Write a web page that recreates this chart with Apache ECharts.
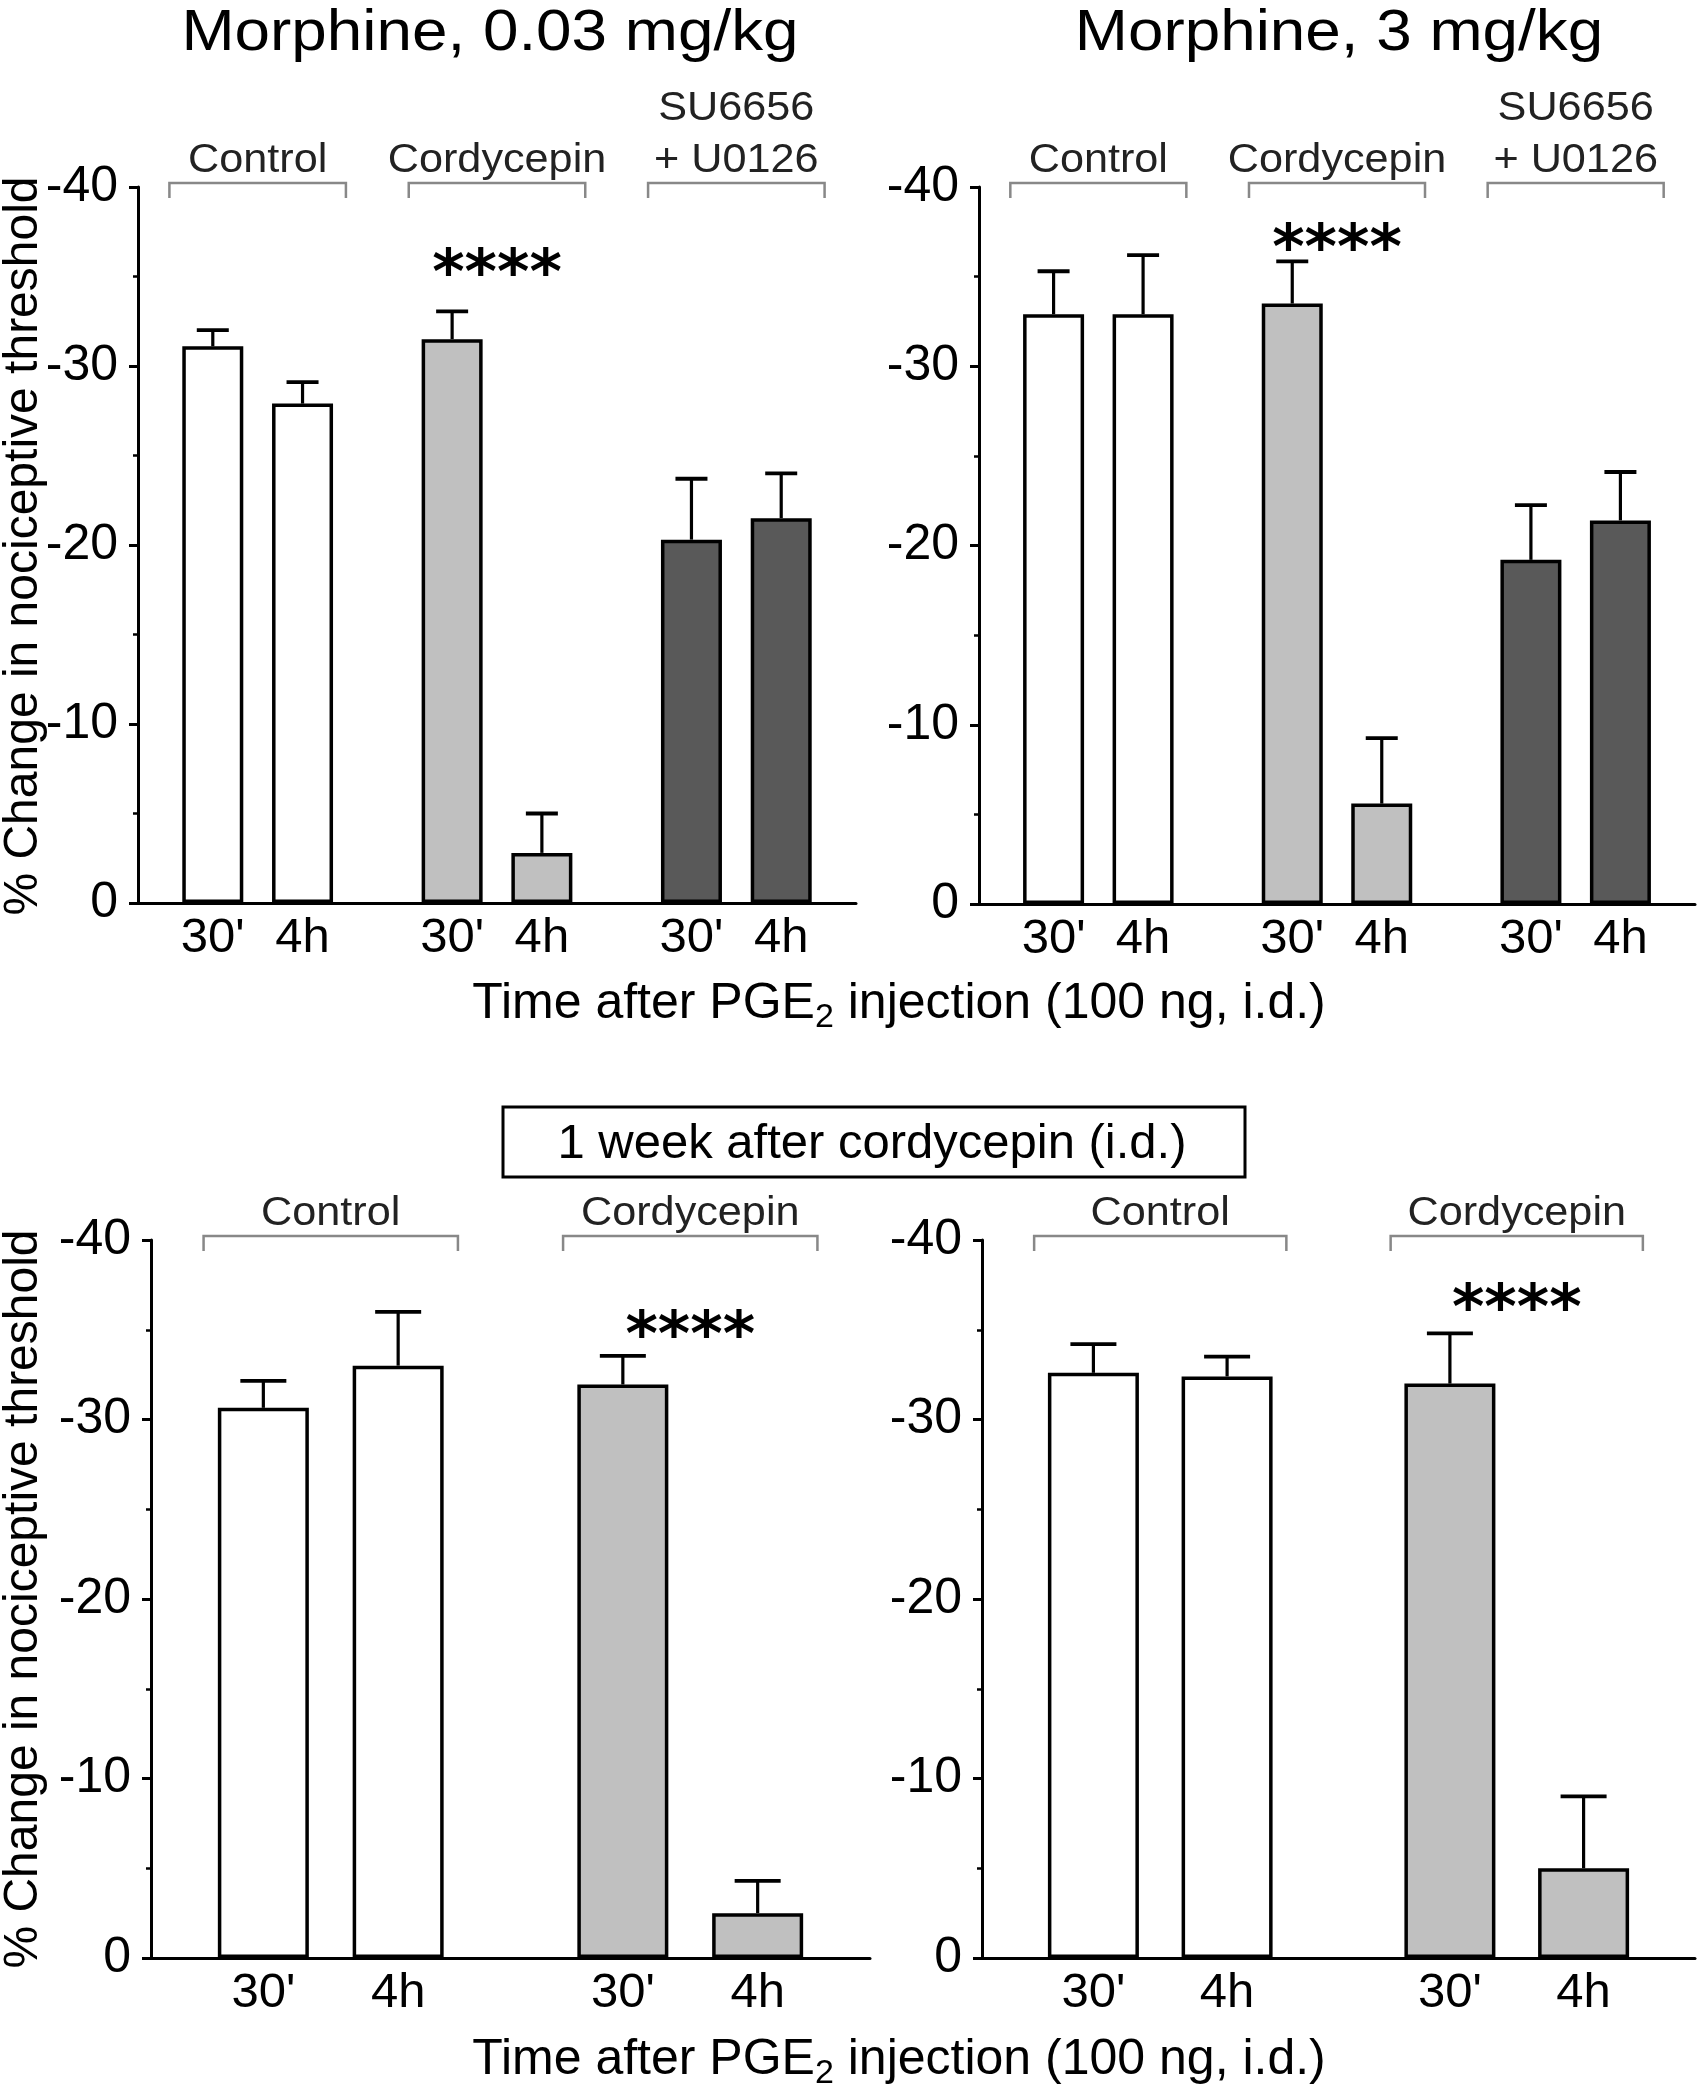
<!DOCTYPE html>
<html>
<head>
<meta charset="utf-8">
<script src="https://cdn.jsdelivr.net/npm/echarts@6/dist/echarts.min.js"></script>
<style>html,body{margin:0;padding:0;background:#fff}#c{width:1698px;height:2100px}</style>
</head>
<body>
<div id="c"></div>
<script>
// ---------- DATA ----------
const timeLabels = ["30'", "4h"];
const topGroups = ["Control", "Cordycepin", "SU6656\n+ U0126"];
const bottomGroups = ["Control", "Cordycepin"];
const panelTitles = ["Morphine, 0.03 mg/kg", "Morphine, 3 mg/kg"];
const yAxisLabel = "% Change in nociceptive threshold";
const xAxisTitle = "Time after PGE{s|2} injection (100 ng, i.d.)";
const boxLabel = "1 week after cordycepin (i.d.)";
const sigText = "****";

// mean % change (negative values) and SEM, order: Control 30', 4h, Cordycepin 30', 4h, SU6656+U0126 30', 4h
const m003Mean = [-31.1, -27.9, -31.5, -2.8, -20.3, -21.5];
const m003Sem  = [0.9, 1.2, 1.55, 2.2, 3.4, 2.5];
const m3Mean   = [-32.9, -32.9, -33.5, -5.6, -19.2, -21.4];
const m3Sem    = [2.4, 3.3, 2.35, 3.65, 3.05, 2.7];
// 1 week after cordycepin
const wk003Mean = [-30.65, -33.0, -31.95, -2.5];
const wk003Sem  = [1.5, 3.0, 1.6, 1.8];
const wk3Mean   = [-32.6, -32.4, -32.0, -5.0];
const wk3Sem    = [1.6, 1.1, 2.8, 4.0];
// level of significance marks
const sigLevel = [-35.7, -37.1, -35.2, -36.7];

// ---------- LAYOUT / STYLE ----------
const FONT = '"Liberation Sans", Arial, Helvetica, sans-serif';
const groupColors = ['#ffffff', '#c0c0c0', '#595959'];
const slots = [2.5, 5.5, 10.5, 13.5, 18.5, 21.5];
const groupCenters = [4, 12, 20];
const sigX = 12;
const sigNudge = 0;

const panels = [
  {mean: m003Mean, sem: m003Sem, groups: topGroups, grid: {left: 138, top: 187, width: 718, height: 716}, xMax: 24, barW: 61, cap: 16, bHalf: 2.95},
  {mean: m3Mean, sem: m3Sem, groups: topGroups, grid: {left: 979, top: 187, width: 719, height: 717}, xMax: 24, barW: 61, cap: 16, bHalf: 2.95},
  {mean: wk003Mean, sem: wk003Sem, groups: bottomGroups, grid: {left: 151, top: 1240, width: 719, height: 718}, xMax: 16, barW: 91, cap: 23, bHalf: 2.83},
  {mean: wk3Mean, sem: wk3Sem, groups: bottomGroups, grid: {left: 982, top: 1240, width: 716, height: 718}, xMax: 16, barW: 91, cap: 23, bHalf: 2.83}
];

const grid = [], xAxis = [], yAxis = [], series = [];
panels.forEach((p, k) => {
  grid.push(Object.assign({containLabel: false}, p.grid));
  const n = p.mean.length;
  xAxis.push({
    type: 'value', gridIndex: k, min: 0, max: p.xMax, interval: 0.5,
    axisLine: {show: true, onZero: true, lineStyle: {color: '#000', width: 3}},
    axisTick: {show: false}, splitLine: {show: false},
    axisLabel: {
      show: true, margin: 11, fontSize: 49, fontFamily: FONT, color: '#000',
      showMinLabel: true, showMaxLabel: true,
      formatter: function (v) {
        for (let i = 0; i < n; i++) if (Math.abs(slots[i] - v) < 1e-6) return timeLabels[i % 2];
        return '';
      }
    }
  });
  yAxis.push({
    type: 'value', gridIndex: k, min: -40, max: 0, interval: 10, inverse: true,
    axisLine: {show: true, lineStyle: {color: '#000', width: 3}},
    axisTick: {show: true, length: 9, lineStyle: {color: '#000', width: 3}},
    minorTick: {show: true, splitNumber: 2, length: 5, lineStyle: {color: '#000', width: 2.5}},
    splitLine: {show: false},
    axisLabel: {margin: 20, fontSize: 50, fontFamily: FONT, color: '#000'}
  });
  // bars
  series.push({
    type: 'bar', xAxisIndex: k, yAxisIndex: k, barWidth: p.barW, z: 2,
    data: p.mean.map((m, i) => ({value: [slots[i], m], itemStyle: {color: groupColors[Math.floor(i / 2)], borderColor: '#000', borderWidth: 3.5}})),
    silent: true, animation: false
  });
  // error bars (upward = more negative)
  series.push({
    type: 'custom', xAxisIndex: k, yAxisIndex: k, z: 4, silent: true, animation: false,
    data: p.mean.map((m, i) => [slots[i], m, p.sem[i]]),
    renderItem: function (params, api) {
      const x = api.value(0), m = api.value(1), s = api.value(2);
      const p0 = api.coord([x, m]);
      const p1 = api.coord([x, m - s]);
      return {type: 'group', children: [
        {type: 'line', shape: {x1: p0[0], y1: p0[1], x2: p1[0], y2: p1[1]}, style: {stroke: '#000', lineWidth: 3.2}},
        {type: 'line', shape: {x1: p1[0] - p.cap, y1: p1[1], x2: p1[0] + p.cap, y2: p1[1]}, style: {stroke: '#000', lineWidth: 3.8}}
      ]};
    }
  });
  // group brackets + labels
  series.push({
    type: 'custom', xAxisIndex: k, yAxisIndex: k, z: 4, silent: true, animation: false, clip: false,
    data: p.groups.map((g, i) => [groupCenters[i], -40]),
    renderItem: function (params, api) {
      const c = api.value(0);
      const l = api.coord([c - p.bHalf, api.value(1)]);
      const r = api.coord([c + p.bHalf, api.value(1)]);
      const y = l[1] - 4;
      return {type: 'group', children: [
        {type: 'polyline', shape: {points: [[l[0], y + 15], [l[0], y], [r[0], y], [r[0], y + 15]]}, style: {stroke: '#888', lineWidth: 2.5, fill: null}},
        {type: 'text', x: (l[0] + r[0]) / 2, y: y + 4, scaleX: 1.08,
          style: {text: p.groups[params.dataIndex], fontSize: 40, lineHeight: 52, fontFamily: FONT, fill: '#222', align: 'center', verticalAlign: 'bottom'}}
      ]};
    }
  });
  // significance
  series.push({
    type: 'custom', xAxisIndex: k, yAxisIndex: k, z: 4, silent: true, animation: false, clip: false,
    data: [[sigX, sigLevel[k]]],
    renderItem: function (params, api) {
      const pt = api.coord([api.value(0), api.value(1)]);
      return {type: 'text', x: pt[0], y: pt[1] + 13,
        style: {text: sigText, fontSize: 62, fontWeight: 'bold', fontFamily: '"DejaVu Sans", sans-serif', fill: '#000', align: 'center', verticalAlign: 'middle'}};
    }
  });
});

const titleStyle = {fontSize: 58, fontFamily: FONT, fill: '#000', align: 'center', verticalAlign: 'middle'};
const xtStyle = {text: xAxisTitle, fontSize: 50, fontFamily: FONT, fill: '#000', align: 'center', verticalAlign: 'middle', lineHeight: 62,
  rich: {s: {fontSize: 34, lineHeight: 62, verticalAlign: 'bottom', fontFamily: FONT, fill: '#000'}}};
const graphic = [
  {type: 'text', x: 490, y: 34, scaleX: 1.1, style: Object.assign({text: panelTitles[0]}, titleStyle)},
  {type: 'text', x: 1339, y: 34, scaleX: 1.1, style: Object.assign({text: panelTitles[1]}, titleStyle)},
  {type: 'text', x: 24, y: 546, rotation: Math.PI / 2, style: {text: yAxisLabel, fontSize: 48, fontFamily: FONT, fill: '#000', align: 'center', verticalAlign: 'middle'}},
  {type: 'text', x: 24, y: 1599, rotation: Math.PI / 2, style: {text: yAxisLabel, fontSize: 48, fontFamily: FONT, fill: '#000', align: 'center', verticalAlign: 'middle'}},
  {type: 'text', x: 899, y: 1004, style: Object.assign({}, xtStyle)},
  {type: 'text', x: 899, y: 2060, style: Object.assign({}, xtStyle)},
  {type: 'rect', shape: {x: 503, y: 1107, width: 742, height: 70}, style: {fill: '#fff', stroke: '#000', lineWidth: 3}},
  {type: 'text', x: 872, y: 1144, style: {text: boxLabel, fontSize: 49, fontFamily: FONT, fill: '#000', align: 'center', verticalAlign: 'middle'}}
];

const chart = echarts.init(document.getElementById('c'), null, {renderer: 'canvas'});
chart.setOption({backgroundColor: '#fff', animation: false, grid, xAxis, yAxis, series, graphic});
</script>
</body>
</html>
